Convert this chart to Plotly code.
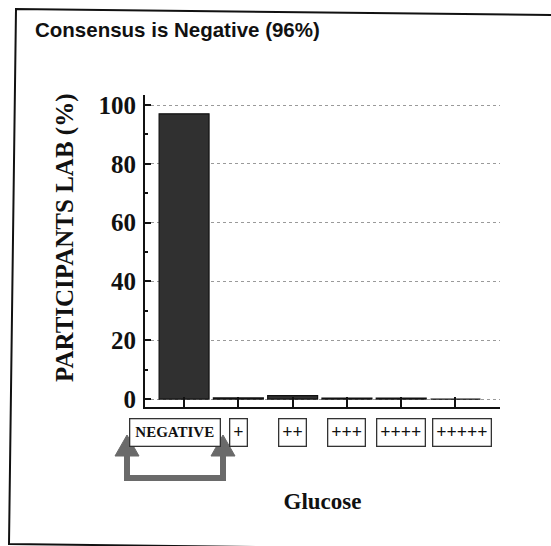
import plotly.graph_objects as go

categories = ["NEGATIVE", "+", "++", "+++", "++++", "+++++"]
participants_pct = [97, 0.4, 1.2, 0.3, 0.3, 0]
y_ticks = [0, 20, 40, 60, 80, 100]

# plot-area pixel geometry (for overlay drawing)
PX0, PX1, PY0, PY1 = 145, 500, 95, 407
W, H = 551, 546


def px(X):
    return (X - PX0) / (PX1 - PX0)


def py(Y):
    return (PY1 - Y) / (PY1 - PY0)


fig = go.Figure()
fig.add_trace(go.Bar(
    x=list(range(len(categories))),
    y=participants_pct,
    width=0.92,
    marker=dict(color="#303030", line=dict(color="#111111", width=1.2)),
    showlegend=False,
))

serif = "Liberation Serif, Times New Roman, serif"

# boxed category labels
shifts = [-9, 0, 0, 0, 0, 7]
for i, lab in enumerate(categories):
    is_neg = lab == "NEGATIVE"
    fig.add_annotation(
        x=i, xref="x", y=py(432), yref="paper", xanchor="center", yanchor="middle",
        text=lab, showarrow=False, xshift=shifts[i],
        font=dict(family=serif, size=15 if is_neg else 18, color="#111", weight="bold"),
        bordercolor="#333", borderwidth=1.3, borderpad=5 if is_neg else 3,
        bgcolor="white",
    )

gray = "#6a6a6a"
# arrow connector
fig.add_shape(type="path", xref="paper", yref="paper",
              path=f"M {px(127)},{py(452)} L {px(127)},{py(478)} L {px(223)},{py(478)} L {px(223)},{py(452)}",
              line=dict(color=gray, width=6))
for cx in (127, 223):
    fig.add_shape(type="path", xref="paper", yref="paper",
                  path=f"M {px(cx-12)},{py(456)} L {px(cx)},{py(435)} L {px(cx+12)},{py(456)} Z",
                  fillcolor=gray, line=dict(color=gray, width=1))

# frame (scanned page border)
fig.add_shape(type="path", xref="paper", yref="paper",
              path=f"M {px(551)},{py(15)} L {px(16)},{py(9)} L {px(9)},{py(544)} L {px(260)},{py(547)}",
              line=dict(color="#111", width=2))

# y-axis title as rotated text
fig.add_annotation(
    x=px(65), xref="paper", y=py(238), yref="paper", xanchor="center", yanchor="middle",
    text="PARTICIPANTS LAB (%)", textangle=-90, showarrow=False,
    font=dict(family=serif, size=25, color="#111", weight="bold"),
)

fig.update_layout(
    width=W, height=H,
    margin=dict(l=PX0, r=W - PX1, t=PY0, b=H - PY1, autoexpand=False),
    paper_bgcolor="white", plot_bgcolor="white",
    title=dict(text="Consensus is Negative (96%)", x=35 / W, xanchor="left",
               y=1 - 30 / H, yanchor="middle",
               font=dict(family="Liberation Sans, Arial, sans-serif", size=20.5, color="#111", weight="bold")),
    xaxis=dict(
        range=[-0.72, 5.82], tickmode="array", tickvals=list(range(len(categories))),
        ticktext=categories, showticklabels=False, automargin=False,
        ticks="inside", ticklen=10, tickwidth=2, tickcolor="#111",
        showline=True, linewidth=2, linecolor="#111", showgrid=False, zeroline=False,
        title=dict(text="Glucose", standoff=85,
                   font=dict(family=serif, size=23, color="#111", weight="bold")),
    ),
    yaxis=dict(
        range=[-2.7, 103.4], tickmode="array", tickvals=y_ticks, automargin=False,
        ticks="inside", ticklen=6, tickwidth=2, tickcolor="#111",
        minor=dict(dtick=10, ticks="inside", ticklen=3, tickwidth=1.5, tickcolor="#111", showgrid=False),
        showline=True, linewidth=2, linecolor="#111",
        showgrid=True, gridcolor="#9a9a9a", griddash="dot", gridwidth=1, zeroline=False,
        tickfont=dict(family=serif, size=25, color="#111", weight="bold"),
        ticklabelstandoff=2,
    ),
)

fig.write_html("out.html", config={"displayModeBar": False},
               post_script="document.body.style.margin='0';")
